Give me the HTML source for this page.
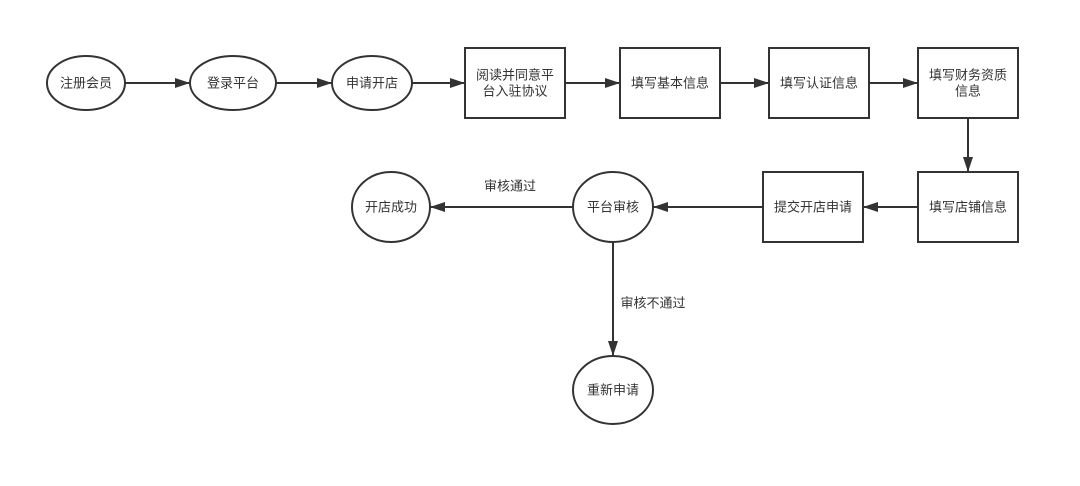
<!DOCTYPE html>
<html><head><meta charset="utf-8"><style>
html,body{margin:0;padding:0;background:#fff;}
svg{display:block;}
text{font-family:"Liberation Sans","Noto Sans CJK SC",sans-serif;font-size:13px;fill:#333;text-anchor:middle;dominant-baseline:central;}
</style></head><body>
<svg width="1080" height="486" viewBox="0 0 1080 486" xmlns="http://www.w3.org/2000/svg">
<defs>
<marker id="a" markerWidth="16" markerHeight="12" refX="15" refY="5" orient="auto" markerUnits="userSpaceOnUse">
<path d="M0,0 L15,5 L0,10 z" fill="#333"/>
</marker>
</defs>
<g stroke="#333" stroke-width="2" fill="#fff">
<ellipse cx="86" cy="83" rx="39" ry="27"/>
<ellipse cx="233" cy="83" rx="43" ry="27"/>
<ellipse cx="372" cy="83" rx="40" ry="27"/>
<rect x="465" y="48" width="100" height="70"/>
<rect x="620" y="48" width="100" height="70"/>
<rect x="769" y="48" width="100" height="70"/>
<rect x="918" y="48" width="100" height="70"/>
<rect x="918" y="172" width="100" height="70"/>
<rect x="763" y="172" width="100" height="70"/>
<ellipse cx="613" cy="207" rx="40" ry="35"/>
<ellipse cx="391" cy="207" rx="39" ry="35"/>
<ellipse cx="613" cy="390" rx="40" ry="34"/>
</g>
<g stroke="#333" stroke-width="2" fill="none" marker-end="url(#a)">
<line x1="125" y1="83" x2="190" y2="83"/>
<line x1="276" y1="83" x2="332" y2="83"/>
<line x1="412" y1="83" x2="465" y2="83"/>
<line x1="565" y1="83" x2="620" y2="83"/>
<line x1="720" y1="83" x2="769" y2="83"/>
<line x1="869" y1="83" x2="918" y2="83"/>
<line x1="968" y1="118" x2="968" y2="172"/>
<line x1="918" y1="207" x2="863" y2="207"/>
<line x1="763" y1="207" x2="653" y2="207"/>
<line x1="573" y1="207" x2="430" y2="207"/>
<line x1="613" y1="242" x2="613" y2="356"/>
</g>
<text x="86" y="83">注册会员</text>
<text x="233" y="83">登录平台</text>
<text x="372" y="83">申请开店</text>
<text x="515" y="75">阅读并同意平</text>
<text x="515" y="91">台入驻协议</text>
<text x="670" y="83">填写基本信息</text>
<text x="819" y="83">填写认证信息</text>
<text x="968" y="75">填写财务资质</text>
<text x="968" y="91">信息</text>
<text x="968" y="207">填写店铺信息</text>
<text x="813" y="207">提交开店申请</text>
<text x="613" y="207">平台审核</text>
<text x="391" y="207">开店成功</text>
<text x="613" y="390">重新申请</text>
<text x="510" y="186">审核通过</text>
<text x="653" y="303">审核不通过</text>
</svg>
</body></html>
